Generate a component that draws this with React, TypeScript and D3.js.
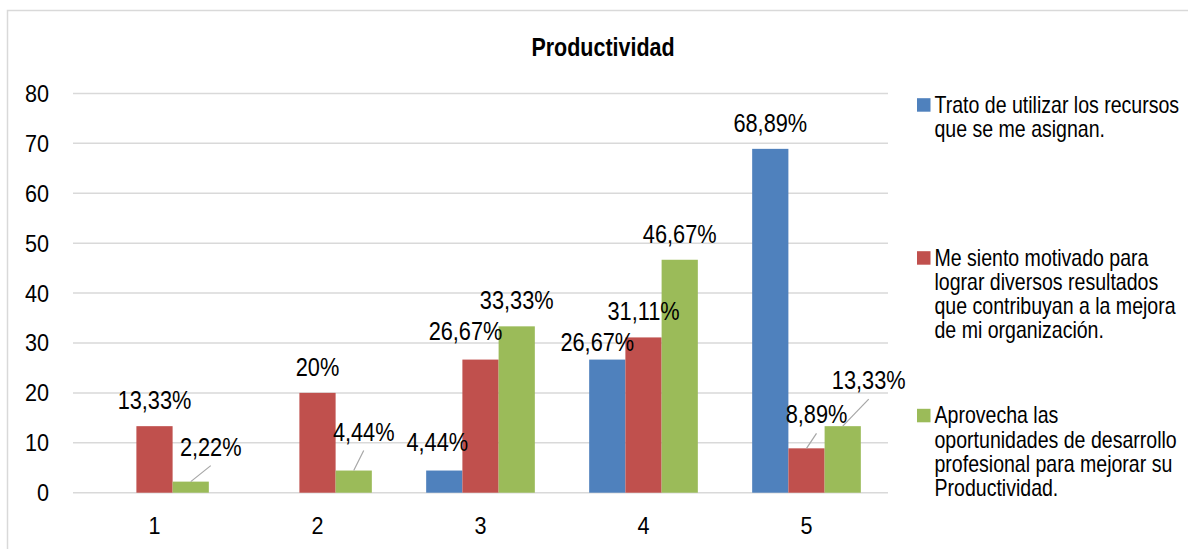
import React from "react";
import * as d3 from "d3";

// Chart data
const categories = ["1", "2", "3", "4", "5"];
const seriesKeys = ["trato", "motivado", "aprovecha"];
const tratoValues = [0, 0, 4.44, 26.67, 68.89];
const motivadoValues = [13.33, 20, 26.67, 31.11, 8.89];
const aprovechaValues = [2.22, 4.44, 33.33, 46.67, 13.33];
const yTicks = [0, 10, 20, 30, 40, 50, 60, 70, 80];
const chartTitle = "Productividad";

// Legend text, already broken into the lines it wraps to
const legendLines = [
  ["Trato de utilizar los recursos", "que se me asignan."],
  ["Me siento motivado para", "lograr diversos resultados", "que contribuyan a la mejora", "de mi organización."],
  ["Aprovecha las", "oportunidades de desarrollo", "profesional para mejorar su", "Productividad."],
];

const seriesValues = [tratoValues, motivadoValues, aprovechaValues];
const colors = ["#4f81bd", "#c0504d", "#9bbb59"];

// Manual nudges for data labels that would otherwise collide (px), with leader lines
const labelNudges: Record<string, { dx: number; dy: number; leader?: boolean }> = {
  "aprovecha-1": { dx: 20, dy: -9, leader: true },
  "aprovecha-2": { dx: 10, dy: -13, leader: true },
  "trato-3": { dx: -7, dy: -3 },
  "motivado-3": { dx: -15, dy: -3 },
  "trato-4": { dx: -10, dy: 8 },
  "motivado-5": { dx: 10, dy: -8, leader: true },
  "aprovecha-5": { dx: 26, dy: -20, leader: true },
};

const FONT = '"Liberation Sans", Arial, sans-serif';
const GRID = "#d9d9d9";

const plotLeft = 73;
const plotRight = 888;
const plotTop = 93.4;
const plotBottom = 492.7;

const fmt = (v: number) => {
  const s = v.toFixed(2).replace(/\.?0+$/, "");
  return s.replace(".", ",") + "%";
};

function SText(props: {
  x: number;
  y: number;
  sx: number;
  size: number;
  anchor?: "start" | "middle" | "end";
  weight?: string | number;
  children: React.ReactNode;
}) {
  const { x, y, sx, size, anchor = "start", weight = "normal", children } = props;
  return (
    <text
      transform={`translate(${x},${y}) scale(${sx},1)`}
      fontFamily={FONT}
      fontSize={size}
      fontWeight={weight}
      textAnchor={anchor}
      fill="#000"
    >
      {children}
    </text>
  );
}

export default function App() {
  const x0 = d3
    .scaleBand<string>()
    .domain(categories)
    .range([plotLeft, plotRight])
    .paddingInner(1 / 3)
    .paddingOuter(1 / 6);
  const x1 = d3.scaleBand<string>().domain(seriesKeys).range([0, x0.bandwidth()]).padding(0);
  const y = d3.scaleLinear().domain([0, 80]).range([plotBottom, plotTop]);

  const bars: React.ReactNode[] = [];
  const labels: React.ReactNode[] = [];

  seriesKeys.forEach((key, si) => {
    seriesValues[si].forEach((v, ci) => {
      const cat = categories[ci];
      const bx = (x0(cat) ?? 0) + (x1(key) ?? 0);
      const bw = x1.bandwidth();
      const top = y(v);
      if (v > 0) {
        bars.push(
          <rect key={`b-${key}-${cat}`} x={bx} y={top} width={bw} height={plotBottom - top} fill={colors[si]} />
        );
        const nudge = labelNudges[`${key}-${cat}`] ?? { dx: 0, dy: 0 };
        const cx = bx + bw / 2;
        const lx = cx + nudge.dx;
        const ly = top - 17 + nudge.dy;
        if (nudge.leader) {
          labels.push(
            <line key={`l-${key}-${cat}`} x1={cx} y1={top} x2={lx} y2={ly + 10} stroke="#a6a6a6" strokeWidth={1.2} />
          );
        }
        labels.push(
          <SText key={`t-${key}-${cat}`} x={lx} y={ly} sx={0.87} size={25} anchor="middle">
            {fmt(v)}
          </SText>
        );
      }
    });
  });

  const legendFirstBaselines = [112.7, 265.7, 423.3];
  const legendLineHeight = 24.2;

  return (
    <svg
      width={1188}
      height={549}
      style={{ position: "absolute", left: 0, top: 0, background: "#fff" }}
    >
      <rect x={0} y={0} width={1188} height={549} fill="#fff" />
      <rect x={7.5} y={10.5} width={1300} height={700} fill="none" stroke={GRID} strokeWidth={1.5} />

      <SText x={603} y={56} sx={0.81} size={26.5} anchor="middle" weight="bold">
        {chartTitle}
      </SText>

      {yTicks.map((t) => (
        <g key={`g-${t}`}>
          <line x1={plotLeft} x2={plotRight} y1={y(t)} y2={y(t)} stroke={GRID} strokeWidth={1.5} />
          <SText x={49} y={y(t) + 8.5} sx={0.9} size={24} anchor="end">
            {t}
          </SText>
        </g>
      ))}

      {categories.map((c) => (
        <SText key={`x-${c}`} x={(x0(c) ?? 0) + x0.bandwidth() / 2} y={534} sx={0.9} size={24} anchor="middle">
          {c}
        </SText>
      ))}

      {bars}
      {labels}

      {legendLines.map((lines, i) => {
        const base = legendFirstBaselines[i];
        return (
          <g key={`leg-${i}`}>
            <rect x={917} y={base - 14.5} width={13.5} height={13.5} fill={colors[i]} />
            {lines.map((ln, j) => (
              <SText key={`ll-${i}-${j}`} x={934.5} y={base + j * legendLineHeight} sx={0.85} size={23}>
                {ln}
              </SText>
            ))}
          </g>
        );
      })}
    </svg>
  );
}
